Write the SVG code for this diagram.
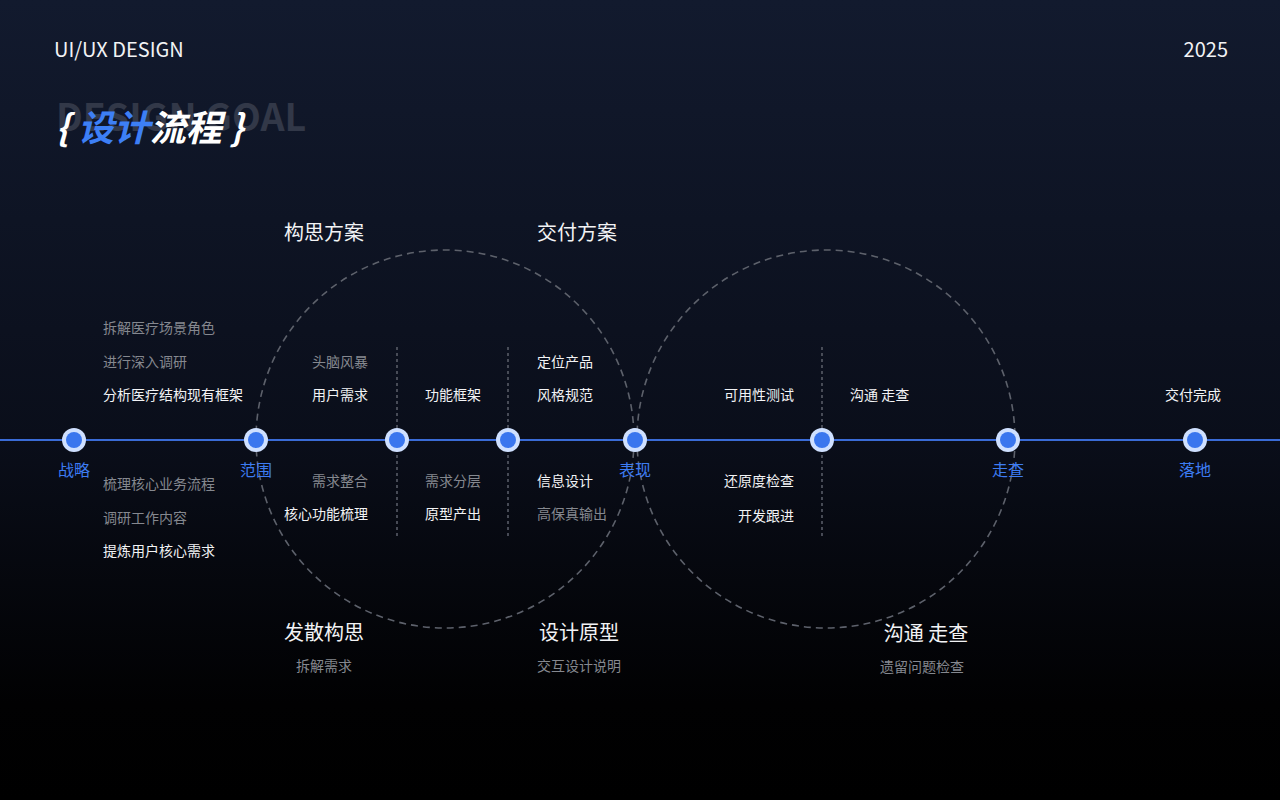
<svg xmlns="http://www.w3.org/2000/svg" width="1280" height="800" viewBox="0 0 1280 800">
<defs>
<linearGradient id="bg" x1="0" y1="0" x2="0" y2="1">
<stop offset="0" stop-color="#121a2e"/>
<stop offset="0.55" stop-color="#0a0e1a"/>
<stop offset="0.88" stop-color="#010102"/>
<stop offset="1" stop-color="#000000"/>
</linearGradient>
<style>
text{font-family:"Noto Sans CJK SC","Noto Sans",sans-serif}
.g{font-size:14px;fill:#85888f}
.w{font-size:14px;fill:#f2f3f5}
.h{font-size:20px;fill:#f2f3f5}
.n{font-size:16px;fill:#3d7cf2}
.ring{fill:#cfe0ff}
.dot{fill:#3a76ee}
.circ{fill:none;stroke:#5d616b;stroke-width:1.6;stroke-dasharray:7 5}
.div{stroke:#575b66;stroke-width:1.6;stroke-dasharray:3 3}
.e{text-anchor:end}
.m{text-anchor:middle}
</style>
</defs>
<rect width="1280" height="800" fill="url(#bg)"/>
<g id="header">
<text x="54" y="57" style="font-size:20px;fill:#f2f3f5">UI/UX DESIGN</text>
<text x="1228" y="57" class="e" style="font-size:20px;fill:#f2f3f5">2025</text>
<text x="56" y="131" style="font-size:37.5px;font-weight:700;fill:#323848">DESIGN GOAL</text>
<text x="56" y="141" style="font-size:36px;font-weight:700;font-style:italic;fill:#ffffff">{ <tspan fill="#3d7ff5">设计</tspan>流程 }</text>
</g>
<g id="connectors">
<line x1="0" y1="440" x2="1280" y2="440" stroke="#3a6bd6" stroke-width="2"/>
<circle class="circ" cx="445" cy="439" r="189"/>
<circle class="circ" cx="826" cy="439" r="189"/>
<line class="div" x1="397" y1="347" x2="397" y2="536"/>
<line class="div" x1="508" y1="347" x2="508" y2="536"/>
<line class="div" x1="822" y1="347" x2="822" y2="536"/>
</g>
<g id="node-zhanlue">
<circle class="ring" cx="74" cy="440" r="12"/><circle class="dot" cx="74" cy="440" r="8"/>
<text x="74" y="476" class="n m">战略</text>
<text x="103" y="333" class="g">拆解医疗场景角色</text>
<text x="103" y="367" class="g">进行深入调研</text>
<text x="103" y="400" class="w">分析医疗结构现有框架</text>
<text x="103" y="489" class="g">梳理核心业务流程</text>
<text x="103" y="523" class="g">调研工作内容</text>
<text x="103" y="556" class="w">提炼用户核心需求</text>
</g>
<g id="node-fanwei">
<circle class="ring" cx="256" cy="440" r="12"/><circle class="dot" cx="256" cy="440" r="8"/>
<text x="256" y="476" class="n m">范围</text>
</g>
<g id="node-1">
<circle class="ring" cx="397" cy="440" r="12"/><circle class="dot" cx="397" cy="440" r="8"/>
<text x="368" y="367" class="g e">头脑风暴</text>
<text x="368" y="400" class="w e">用户需求</text>
<text x="368" y="486" class="g e">需求整合</text>
<text x="368" y="519" class="w e">核心功能梳理</text>
</g>
<g id="node-2">
<circle class="ring" cx="508" cy="440" r="12"/><circle class="dot" cx="508" cy="440" r="8"/>
<text x="425" y="400" class="w">功能框架</text>
<text x="425" y="486" class="g">需求分层</text>
<text x="425" y="519" class="w">原型产出</text>
</g>
<g id="node-biaoxian">
<circle class="ring" cx="635" cy="440" r="12"/><circle class="dot" cx="635" cy="440" r="8"/>
<text x="635" y="476" class="n m">表现</text>
<text x="537" y="367" class="w">定位产品</text>
<text x="537" y="400" class="w">风格规范</text>
<text x="537" y="486" class="w">信息设计</text>
<text x="537" y="519" class="g">高保真输出</text>
</g>
<g id="node-3">
<circle class="ring" cx="822" cy="440" r="12"/><circle class="dot" cx="822" cy="440" r="8"/>
<text x="794" y="400" class="w e">可用性测试</text>
<text x="850" y="400" class="w">沟通 走查</text>
<text x="794" y="486" class="w e">还原度检查</text>
<text x="794" y="521" class="w e">开发跟进</text>
</g>
<g id="node-zoucha">
<circle class="ring" cx="1008" cy="440" r="12"/><circle class="dot" cx="1008" cy="440" r="8"/>
<text x="1008" y="476" class="n m">走查</text>
</g>
<g id="node-luodi">
<circle class="ring" cx="1195" cy="440" r="12"/><circle class="dot" cx="1195" cy="440" r="8"/>
<text x="1195" y="476" class="n m">落地</text>
<text x="1193" y="400" class="w m">交付完成</text>
</g>
<g id="phase-labels">
<text x="324" y="240" class="h m">构思方案</text>
<text x="577" y="240" class="h m">交付方案</text>
<text x="324" y="640" class="h m">发散构思</text>
<text x="324" y="671" class="g m">拆解需求</text>
<text x="579" y="640" class="h m">设计原型</text>
<text x="579" y="671" class="g m">交互设计说明</text>
<text x="926" y="641" class="h m">沟通 走查</text>
<text x="922" y="672" class="g m">遗留问题检查</text>
</g>
</svg>
